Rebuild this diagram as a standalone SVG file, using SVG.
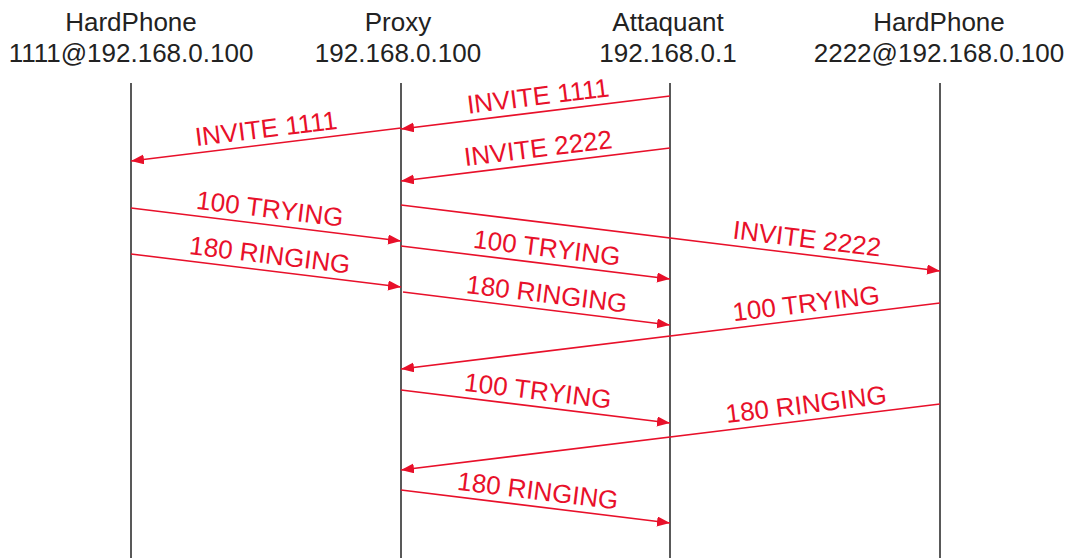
<svg xmlns="http://www.w3.org/2000/svg" width="1066" height="558" viewBox="0 0 1066 558">
<style>
.hdr{font-family:"Liberation Sans",Arial,sans-serif;font-size:26px;fill:#222;text-anchor:middle}
.life{stroke:#222;stroke-width:1.5}
.msg{stroke:#e8102a;stroke-width:1.6;fill:none;marker-end:url(#ah)}
.lbl{font-family:"Liberation Sans",Arial,sans-serif;font-size:26px;fill:#e8102a;text-anchor:middle}
</style>
<defs>
<marker id="ah" markerUnits="userSpaceOnUse" markerWidth="14" markerHeight="11" refX="13" refY="5" orient="auto">
<path d="M0,0 L13,5 L0,10 z" fill="#e8102a"/>
</marker>
</defs>
<rect width="1066" height="558" fill="#fff"/>
<g id="hp1111">
<text class="hdr" x="131" y="31">HardPhone</text>
<text class="hdr" x="131" y="62">1111@192.168.0.100</text>
<line class="life" x1="131" y1="83" x2="131" y2="558"/>
</g>
<g id="proxy">
<text class="hdr" x="398" y="31">Proxy</text>
<text class="hdr" x="398" y="62">192.168.0.100</text>
<line class="life" x1="401" y1="83" x2="401" y2="558"/>
</g>
<g id="attaquant">
<text class="hdr" x="668" y="31">Attaquant</text>
<text class="hdr" x="668" y="62">192.168.0.1</text>
<line class="life" x1="670" y1="83" x2="670" y2="558"/>
</g>
<g id="hp2222">
<text class="hdr" x="939" y="31">HardPhone</text>
<text class="hdr" x="939" y="62">2222@192.168.0.100</text>
<line class="life" x1="940" y1="83" x2="940" y2="558"/>
</g>
<g id="connectors">
<line class="msg" x1="670" y1="96" x2="401" y2="129"/>
<text class="lbl" transform="translate(540,111.9) rotate(-7)" y="-7">INVITE 1111</text>
<line class="msg" x1="401" y1="128" x2="131" y2="161"/>
<text class="lbl" transform="translate(268,144.3) rotate(-7)" y="-7">INVITE 1111</text>
<line class="msg" x1="670" y1="148" x2="401" y2="181"/>
<text class="lbl" transform="translate(540,164) rotate(-7)" y="-7">INVITE 2222</text>
<line class="msg" x1="131" y1="208" x2="401" y2="241"/>
<text class="lbl" transform="translate(268,224.7) rotate(7)" y="-7">100 TRYING</text>
<line class="msg" x1="131" y1="254" x2="401" y2="287"/>
<text class="lbl" transform="translate(268,270.7) rotate(7)" y="-7">180 RINGING</text>
<line class="msg" x1="401" y1="205" x2="940" y2="271"/>
<text class="lbl" transform="translate(805,254.5) rotate(7)" y="-7">INVITE 2222</text>
<line class="msg" x1="401" y1="246" x2="670" y2="279"/>
<text class="lbl" transform="translate(545,263.7) rotate(7)" y="-7">100 TRYING</text>
<line class="msg" x1="403" y1="292" x2="670" y2="325"/>
<text class="lbl" transform="translate(545,309.7) rotate(7)" y="-7">180 RINGING</text>
<line class="msg" x1="940" y1="303" x2="401" y2="369"/>
<text class="lbl" transform="translate(808,319.2) rotate(-7)" y="-7">100 TRYING</text>
<line class="msg" x1="401" y1="390" x2="670" y2="423"/>
<text class="lbl" transform="translate(536,406.6) rotate(7)" y="-7">100 TRYING</text>
<line class="msg" x1="940" y1="404" x2="401" y2="470"/>
<text class="lbl" transform="translate(808,420.2) rotate(-7)" y="-7">180 RINGING</text>
<line class="msg" x1="401" y1="490" x2="670" y2="523"/>
<text class="lbl" transform="translate(536,506.6) rotate(7)" y="-7">180 RINGING</text>
</g>
</svg>
